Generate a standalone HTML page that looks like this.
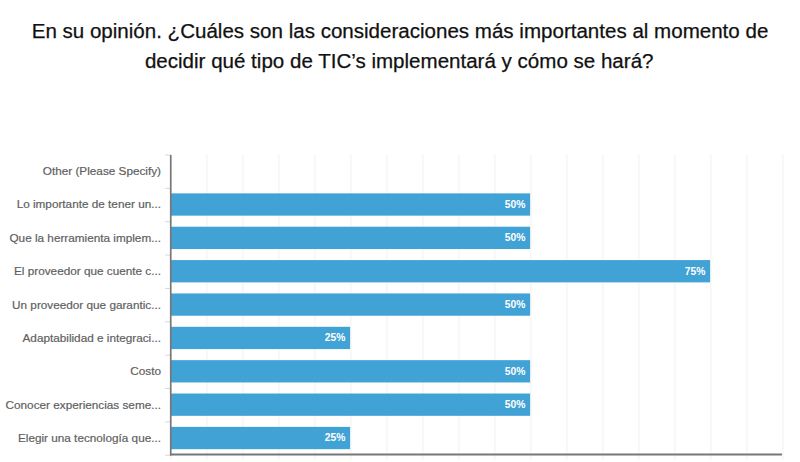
<!DOCTYPE html>
<html><head><meta charset="utf-8"><style>
html,body{margin:0;padding:0;background:#fff;width:800px;height:462px;overflow:hidden}
body{position:relative;font-family:"Liberation Sans",sans-serif}
.t{position:absolute;left:0;width:800px;text-align:center;font-size:20.55px;color:#111;white-space:nowrap;-webkit-text-stroke:0.25px #111}
svg{position:absolute;left:0;top:0}
svg text{font-family:"Liberation Sans",sans-serif}
.l{font-size:11.75px;fill:#606060;stroke:#606060;stroke-width:0.2px;text-anchor:end}
.p{font-size:10.3px;font-weight:bold;fill:#fff;text-anchor:end}
</style></head><body>
<div class="t" style="top:19px">En su opinión. ¿Cuáles son las consideraciones más importantes al momento de</div>
<div class="t" style="top:48.7px;left:-0.8px">decidir qué tipo de TIC’s implementará y cómo se hará?</div>
<svg width="800" height="462" viewBox="0 0 800 462">
<line x1="206.85" y1="154" x2="206.85" y2="460" stroke="#f1f1f1" stroke-width="1"/>
<line x1="242.85" y1="154" x2="242.85" y2="460" stroke="#f1f1f1" stroke-width="1"/>
<line x1="278.85" y1="154" x2="278.85" y2="460" stroke="#f1f1f1" stroke-width="1"/>
<line x1="314.85" y1="154" x2="314.85" y2="460" stroke="#f1f1f1" stroke-width="1"/>
<line x1="350.85" y1="154" x2="350.85" y2="460" stroke="#f1f1f1" stroke-width="1"/>
<line x1="386.85" y1="154" x2="386.85" y2="460" stroke="#f1f1f1" stroke-width="1"/>
<line x1="422.85" y1="154" x2="422.85" y2="460" stroke="#f1f1f1" stroke-width="1"/>
<line x1="458.85" y1="154" x2="458.85" y2="460" stroke="#f1f1f1" stroke-width="1"/>
<line x1="494.85" y1="154" x2="494.85" y2="460" stroke="#f1f1f1" stroke-width="1"/>
<line x1="530.85" y1="154" x2="530.85" y2="460" stroke="#f1f1f1" stroke-width="1"/>
<line x1="566.85" y1="154" x2="566.85" y2="460" stroke="#f1f1f1" stroke-width="1"/>
<line x1="602.85" y1="154" x2="602.85" y2="460" stroke="#f1f1f1" stroke-width="1"/>
<line x1="638.85" y1="154" x2="638.85" y2="460" stroke="#f1f1f1" stroke-width="1"/>
<line x1="674.85" y1="154" x2="674.85" y2="460" stroke="#f1f1f1" stroke-width="1"/>
<line x1="710.85" y1="154" x2="710.85" y2="460" stroke="#f1f1f1" stroke-width="1"/>
<line x1="746.85" y1="154" x2="746.85" y2="460" stroke="#f1f1f1" stroke-width="1"/>
<line x1="782.85" y1="154" x2="782.85" y2="460" stroke="#f1f1f1" stroke-width="1"/>
<line x1="170.85" y1="455" x2="170.85" y2="460" stroke="#f1f1f1" stroke-width="1"/>
<line x1="165" y1="155.00" x2="171" y2="155.00" stroke="#d8d8d8" stroke-width="1"/>
<line x1="165" y1="188.36" x2="171" y2="188.36" stroke="#d8d8d8" stroke-width="1"/>
<line x1="165" y1="221.72" x2="171" y2="221.72" stroke="#d8d8d8" stroke-width="1"/>
<line x1="165" y1="255.08" x2="171" y2="255.08" stroke="#d8d8d8" stroke-width="1"/>
<line x1="165" y1="288.44" x2="171" y2="288.44" stroke="#d8d8d8" stroke-width="1"/>
<line x1="165" y1="321.80" x2="171" y2="321.80" stroke="#d8d8d8" stroke-width="1"/>
<line x1="165" y1="355.16" x2="171" y2="355.16" stroke="#d8d8d8" stroke-width="1"/>
<line x1="165" y1="388.52" x2="171" y2="388.52" stroke="#d8d8d8" stroke-width="1"/>
<line x1="165" y1="421.88" x2="171" y2="421.88" stroke="#d8d8d8" stroke-width="1"/>
<line x1="165" y1="455.24" x2="171" y2="455.24" stroke="#d8d8d8" stroke-width="1"/>
<rect x="171" y="193.36" width="359.10" height="22.3" fill="#41a2d6"/>
<text class="p" x="525.40" y="208">50%</text>
<rect x="171" y="226.72" width="359.10" height="22.3" fill="#41a2d6"/>
<text class="p" x="525.40" y="241">50%</text>
<rect x="171" y="260.08" width="539.10" height="22.3" fill="#41a2d6"/>
<text class="p" x="705.40" y="275">75%</text>
<rect x="171" y="293.44" width="359.10" height="22.3" fill="#41a2d6"/>
<text class="p" x="525.40" y="308">50%</text>
<rect x="171" y="326.80" width="179.10" height="22.3" fill="#41a2d6"/>
<text class="p" x="345.40" y="341">25%</text>
<rect x="171" y="360.16" width="359.10" height="22.3" fill="#41a2d6"/>
<text class="p" x="525.40" y="375">50%</text>
<rect x="171" y="393.52" width="359.10" height="22.3" fill="#41a2d6"/>
<text class="p" x="525.40" y="408">50%</text>
<rect x="171" y="426.88" width="179.10" height="22.3" fill="#41a2d6"/>
<text class="p" x="345.40" y="441">25%</text>
<text class="l" x="161" y="175.10">Other (Please Specify)</text>
<text class="l" x="161" y="208.46">Lo importante de tener un...</text>
<text class="l" x="161" y="241.82">Que la herramienta implem...</text>
<text class="l" x="161" y="275.18">El proveedor que cuente c...</text>
<text class="l" x="161" y="308.54">Un proveedor que garantic...</text>
<text class="l" x="161" y="341.90">Adaptabilidad e integraci...</text>
<text class="l" x="161" y="375.26">Costo</text>
<text class="l" x="161" y="408.62">Conocer experiencias seme...</text>
<text class="l" x="161" y="441.98">Elegir una tecnología que...</text>
<line x1="170.75" y1="155" x2="170.75" y2="455.40" stroke="#777777" stroke-width="1.7"/>
<line x1="170" y1="454.40" x2="782" y2="454.40" stroke="#777777" stroke-width="2"/>
</svg>
</body></html>
